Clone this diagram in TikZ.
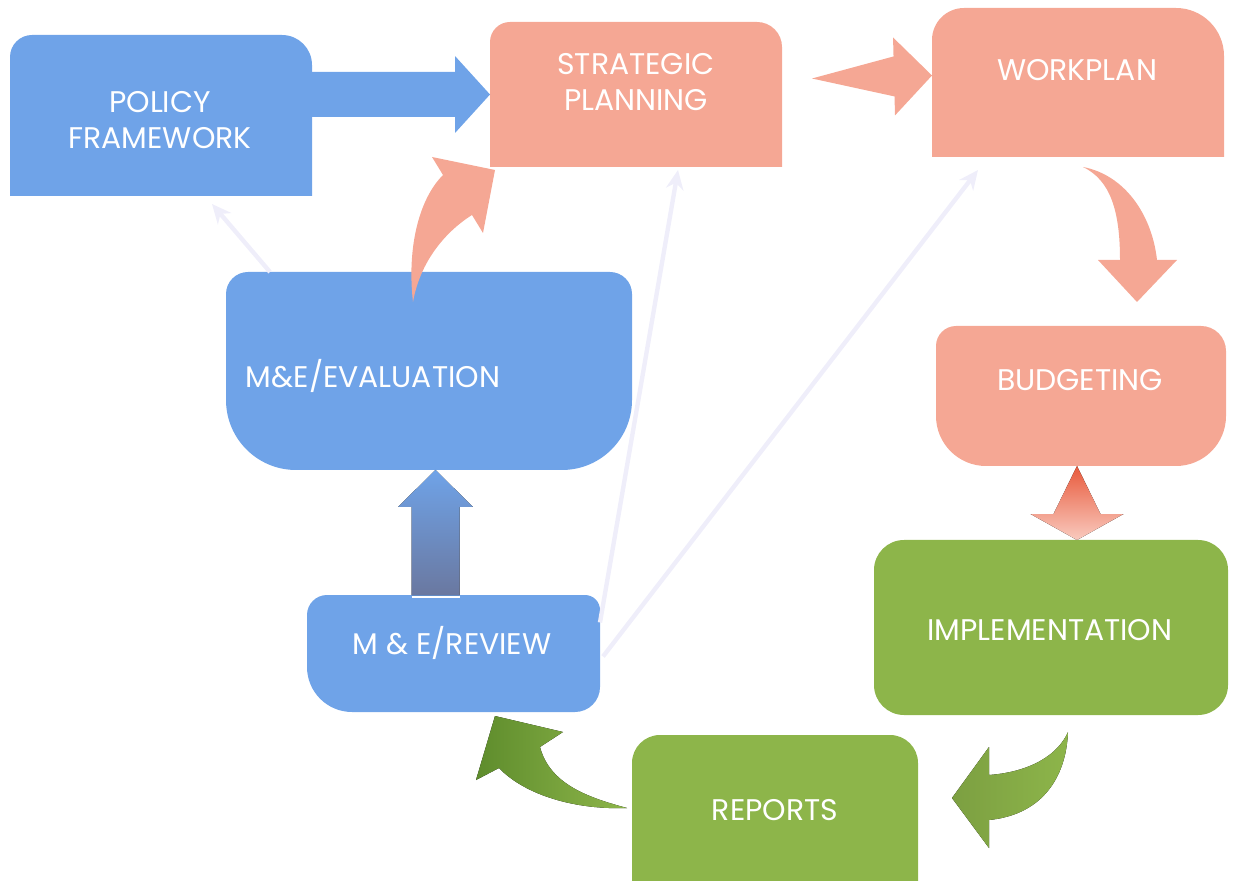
\documentclass[tikz,border=0pt]{standalone}
\usepackage{fontspec}
\setmainfont{Poppins}
\usepackage{tikz}
\usetikzlibrary{arrows.meta,calc,fit,backgrounds}
\definecolor{BoxBlue}{HTML}{6FA3E8}
\definecolor{BoxSalmon}{HTML}{F5A794}
\definecolor{BoxGreen}{HTML}{8DB54A}
\definecolor{GreenDeep}{HTML}{5E8C2C}
\definecolor{SlateBlue}{HTML}{6A78A0}
\definecolor{ArrowRed}{HTML}{E85A3C}
\definecolor{FaintLilac}{HTML}{EFEEFA}

% box with its own radius at each corner: colour, node, tl, tr, br, bl
\newcommand{\shapebox}[6]{%
  \fill[#1] ($(#2.north west)+(0,-#3)$)
      arc[start angle=180, end angle=90, radius=#3]
    -- ($(#2.north east)+(-#4,0)$)
      arc[start angle=90, end angle=0, radius=#4]
    -- ($(#2.south east)+(0,#5)$)
      arc[start angle=0, end angle=-90, radius=#5]
    -- ($(#2.south west)+(#6,0)$)
      arc[start angle=270, end angle=180, radius=#6]
    -- cycle;}

% straight block arrow: style, tail, tip, tail half, shaft half, head half, head length
\newcommand{\blockarrow}[7]{%
  \coordinate (ba-h) at ($(#3)!#7!(#2)$);
  \fill[#1] ($(#2)!#4!90:(#3)$) -- ($(ba-h)!#5!90:(#3)$)
    -- ($(ba-h)!#6!90:(#3)$) -- (#3) -- ($(ba-h)!#6!-90:(#3)$)
    -- ($(ba-h)!#5!-90:(#3)$) -- ($(#2)!#4!-90:(#3)$) -- cycle;}

\begin{document}
\begin{tikzpicture}[x=0.02cm, y=0.02cm,
    >=Stealth, font=\fontsize{17}{21}\selectfont,
    area/.style={inner sep=0pt, outer sep=0pt},
    lbl/.style={text=white, align=center, inner sep=0pt, text depth=0pt},
    faint/.style={-{Stealth[length=11pt, width=10pt]}, line width=2.5pt,
                  color=FaintLilac},
  ]
  \useasboundingbox (0,0) rectangle (1234,-881);

  % boxes
  \node[area, fit={(10,-35) (312,-196)}]    (policy)  {};
  \node[area, fit={(490,-22) (782,-167)}]   (strat)   {};
  \node[area, fit={(932,-8) (1224,-157)}]   (work)    {};
  \node[area, fit={(226,-272) (632,-470)}]  (eval)    {};
  \node[area, fit={(936,-326) (1226,-466)}] (budget)  {};
  \node[area, fit={(874,-540) (1228,-715)}] (impl)    {};
  \node[area, fit={(307,-595) (600,-712)}]  (review)  {};
  \node[area, fit={(632,-735) (918,-881)}]  (reports) {};

  \begin{pgfonlayer}{background}
    \shapebox{BoxBlue}{policy}{22}{30}{0.1}{0.1}
    \shapebox{BoxSalmon}{strat}{20}{25}{0.1}{0.1}
    \shapebox{BoxSalmon}{work}{32}{48}{0.1}{0.1}
    \shapebox{BoxBlue}{eval}{22}{22}{70}{70}
    \shapebox{BoxSalmon}{budget}{20}{25}{50}{50}
    \shapebox{BoxGreen}{impl}{30}{30}{30}{30}
    \shapebox{BoxBlue}{review}{20}{15}{25}{45}
    \shapebox{BoxGreen}{reports}{28}{28}{0.1}{0.1}
  \end{pgfonlayer}

  % labels
  \node[lbl] (policy-t)  at (160,-120)  {POLICY\\FRAMEWORK};
  \node[lbl] (strat-t)   at (636,-82)   {STRATEGIC\\PLANNING};
  \node[lbl] (work-t)    at (1077,-70)  {WORKPLAN};
  \node[lbl] (eval-t)    at (373,-373)  {M\&E/EVALUATION};
  \node[lbl] (budget-t)  at (1080,-380) {BUDGETING};
  \node[lbl] (impl-t)    at (1050,-630) {IMPLEMENTATION};
  \node[lbl] (review-t)  at (452,-640)  {M \& E/REVIEW};
  \node[lbl] (reports-t) at (775,-810)  {REPORTS};

  % faint links
  \draw[faint] ($(eval.north west)+(44,0)$) -- ($(policy.south west)+(202,-8)$);
  \draw[faint] ($(review.east)+(0,31)$) -- ($(strat.south)+(42,-3)$);
  \draw[faint] ($(review.east)+(3,-3)$) -- ($(work.south west)+(46,-13)$);

  % straight block arrows
  \coordinate (ps-t) at (policy.east |- strat.west);
  \blockarrow{BoxBlue}{ps-t}{strat.west}{0.45cm}{0.45cm}{0.77cm}{0.7cm}
  \coordinate (sw-t) at ($(strat.east)+(30,16)$);
  \coordinate (sw-p) at ($(work.west)+(0,7)$);
  \blockarrow{BoxSalmon}{sw-t}{sw-p}{0cm}{0.4cm}{0.78cm}{0.76cm}
  \coordinate (re-t) at ($(review.north)+(-18,0)$);
  \coordinate (re-p) at (eval.south -| re-t);
  \blockarrow{top color=BoxBlue, bottom color=SlateBlue}{re-t}{re-p}{0.48cm}{0.48cm}{0.75cm}{0.74cm}
  \draw[white, line width=1pt] ($(re-t)+(-24,-2)$) -- ($(re-t)+(24,-2)$);
  \coordinate (bi-t) at ($(budget.south)+(-4,0)$);
  \coordinate (bi-p) at (impl.north -| bi-t);
  \blockarrow{top color=ArrowRed, bottom color=BoxSalmon!60!white}{bi-t}{bi-p}{0cm}{0.47cm}{0.93cm}{0.52cm}

  % curved block arrows
  \coordinate (es-t) at ($(eval.north west)+(187,-30)$);
  \coordinate (es-p) at ($(strat.south west)+(5,-3)$);
  \fill[BoxSalmon] (es-t) .. controls (407,-250) and (418,-200) .. (443,-175)
    -- (432,-157) -- (es-p) -- (483,-233) -- (472,-215)
    .. controls (445,-232) and (420,-262) .. (es-t) -- cycle;

  \coordinate (wb-t) at ($(work.south)+(5,-10)$);
  \coordinate (wb-p) at ($(budget.north)+(56,24)$);
  \fill[BoxSalmon] (wb-t) .. controls (1110,-180) and (1120,-210) .. (1120,-260)
    -- (1098,-260) -- (wb-p) -- (1177,-260) -- (1157,-260)
    .. controls (1152,-215) and (1125,-175) .. (wb-t) -- cycle;

  \coordinate (ir-t) at ($(impl.south east)+(-160,-17)$);
  \coordinate (ir-p) at ($(reports.east)+(34,10)$);
  \fill[left color=BoxGreen!88!black, right color=BoxGreen]
    (989,-820) -- (989,-848) -- (ir-p) -- (989,-747) -- (989,-775)
    .. controls (1030,-772) and (1058,-755) .. (ir-t)
    .. controls (1066,-780) and (1040,-815) .. (989,-820) -- cycle;

  \coordinate (rr-t) at ($(reports.west)+(-5,0)$);
  \coordinate (rr-p) at ($(review.south)+(41.5,-4)$);
  \fill[left color=GreenDeep, right color=BoxGreen]
    (499,-768) -- (476,-780) -- (rr-p) -- (563,-732) -- (540,-747)
    .. controls (550,-785) and (590,-798) .. (rr-t)
    .. controls (575,-810) and (525,-795) .. (499,-768) -- cycle;
\end{tikzpicture}
\end{document}
